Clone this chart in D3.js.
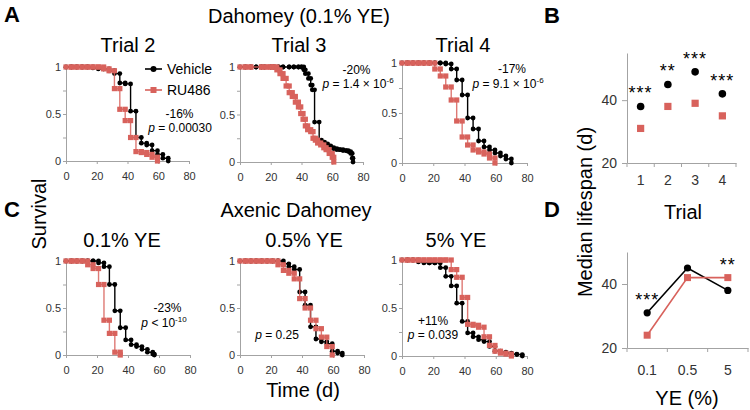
<!DOCTYPE html>
<html><head><meta charset="utf-8">
<script src="https://cdn.jsdelivr.net/npm/d3@7"></script>
<style>
body{margin:0;background:#fff;}
svg{font-family:"Liberation Sans",Arial,sans-serif;display:block;}
</style></head><body>
<svg id="c" width="750" height="410"></svg>
<script>
// ---------------- DATA ----------------
const survXTicks = [0, 20, 40, 60, 80];
const survYTicks = [0, 0.25, 0.5, 0.75, 1];
const seriesNames = ["Vehicle", "RU486"];

// Panel A - Dahomey (0.1% YE)
const t2VehTime = [0,3.5,7,10.5,14,17.5,21,24.5,28,31.5,35,38.5,42,45.5,49,52.5,56,59.5,63,66.5];
const t2VehSurv = [1,1,1,1,1,0.99,0.98,0.98,0.96,0.93,0.83,0.82,0.53,0.25,0.19,0.17,0.11,0.07,0.03,0];
const t2RuTime  = [0,3.5,7,10.5,14,17.5,21,24.5,28,31.5,35,38.5,42,45.5,49,52.5,56,59.5];
const t2RuSurv  = [1,1,1,1,1,1,1,0.98,0.96,0.77,0.55,0.43,0.25,0.10,0.09,0.07,0.04,0];

const t3VehTime = [0,3.5,7,10.5,14,16,20,22,25,28,32,35,38,40,41.5,42.5,44.5,46,47,48.5,51.5,53,55,57,59,61,63,65,67,69,70.5,72,73,73.5];
const t3VehSurv = [1,1,1,1,1,1,1,1,1,1,1,1,1,1,0.97,0.93,0.88,0.81,0.76,0.42,0.23,0.21,0.19,0.17,0.15,0.14,0.13,0.13,0.12,0.12,0.11,0.09,0.04,0];
const t3RuTime  = [0,3.5,7,14,17,20,22,24,26,28,30,32,34,36,38,39.5,41,42.5,44,46,47.5,49,50.5,52.5,54.5,56,58,60,61];
const t3RuSurv  = [1,1,1,1,1,1,1,0.97,0.93,0.88,0.80,0.73,0.69,0.63,0.58,0.51,0.45,0.38,0.34,0.32,0.25,0.23,0.20,0.18,0.15,0.13,0.09,0.05,0];

const t4VehTime = [0,3.5,7,10.5,14,17.5,21,24.5,28,31.5,35,38.5,42,45.5,49,52.5,56,59.5,63,66.5,70];
const t4VehSurv = [1,1,1,1,1,1,1,1,0.99,0.94,0.83,0.68,0.45,0.34,0.22,0.16,0.13,0.10,0.07,0.04,0];
const t4RuTime  = [0,3.5,7,10.5,14,17.5,21,24.5,28,31.5,35,38.5,42,45.5,49,52.5,56,59.5];
const t4RuSurv  = [1,1,1,1,1,1,0.94,0.87,0.76,0.63,0.42,0.26,0.18,0.13,0.11,0.09,0.05,0];

// Panel C - Axenic Dahomey
const c1VehTime = [0,3.5,7,10.5,14,17.5,21,24.5,28,31.5,35,38.5,42,45.5,49,52.5,56,57];
const c1VehSurv = [1,1,1,1,1,1,0.98,0.94,0.75,0.47,0.29,0.16,0.11,0.09,0.06,0.03,0.01,0];
const c1RuTime  = [0,3.5,7,10.5,14,17.5,21,24.5,28,31.5,35];
const c1RuSurv  = [1,1,1,1,0.96,0.92,0.75,0.37,0.23,0.03,0];

const c2VehTime = [0,3.5,7,10.5,14,17.5,21,24.5,28,31.5,35,38.5,42,45.5,49,52.5,56,59.5,63,66];
const c2VehSurv = [1,1,1,1,1,1,1,1,0.97,0.94,0.91,0.67,0.53,0.30,0.17,0.14,0.12,0.04,0.02,0];
const c2RuTime  = [0,3.5,7,10.5,14,17.5,21,24.5,28,31.5,35,38.5,42,45.5,49,52.5,56,59.5];
const c2RuSurv  = [1,1,1,1,1,1,1,0.96,0.90,0.87,0.81,0.60,0.50,0.37,0.28,0.19,0.09,0];

const c3VehTime = [0,3.5,7,10.5,14,17.5,21,24.5,28,31.5,35,38.5,42,45.5,49,52.5,56,59.5,63,66.5,70,73.5,77];
const c3VehSurv = [1,1,1,0.98,0.97,0.97,0.97,0.92,0.83,0.73,0.55,0.36,0.24,0.20,0.17,0.15,0.10,0.05,0.04,0.03,0.02,0.015,0];
const c3RuTime  = [0,3.5,7,10.5,14,17.5,21,24.5,28,31.5,35,38.5,42,45.5,49,52.5,56,59.5,63,66.5,70];
const c3RuSurv  = [1,1,1,1,1,1,1,1,1,0.90,0.82,0.61,0.33,0.32,0.30,0.20,0.11,0.05,0.03,0.02,0];

// Panel B - median lifespan per trial
const bTrials  = ["1","2","3","4"];
const bVehicle = [38,45,49,42];
const bRU486   = [31,38,39,35];
const bSig     = ["***","**","***","***"];
const bYTicks  = [20,40];

// Panel D - median lifespan per YE
const dYE      = ["0.1","0.5","5"];
const dVehicle = [31,45,38];
const dRU486   = [24,42,42];
const dSig     = ["***","","**"];
const dYTicks  = [20,40];

// ---------------- DRAWING ----------------
const svg = d3.select("#c");
const RED = "#d8625c";
const AXIS = "#a3a3a3";
const TXT = "#333";

function styleAxis(g, size) {
  g.attr("font-family", null).attr("font-size", null);
  g.selectAll("path.domain").attr("stroke", AXIS).attr("stroke-width", 1);
  g.selectAll(".tick line").attr("stroke", AXIS);
  g.selectAll(".tick text").attr("fill", TXT).style("font-size", size + "px");
}

function drawSurvival(box, veh, ru) {
  const g = svg.append("g");
  const x = d3.scaleLinear().domain([0, 80]).range([box.x0, box.x1]);
  const y = d3.scaleLinear().domain([0, 1]).range([box.yb, box.yt]);
  const xa = d3.axisBottom(x).tickValues(survXTicks).tickSize(3).tickSizeOuter(0).tickPadding(8);
  styleAxis(g.append("g").attr("transform", `translate(0,${box.yb})`).call(xa), 11);
  const ya = d3.axisLeft(y).tickValues(survYTicks)
    .tickFormat(d => (d === 0.25 || d === 0.75) ? "" : String(d))
    .tickSize(3).tickSizeOuter(0).tickPadding(2);
  styleAxis(g.append("g").attr("transform", `translate(${box.x0},0)`).call(ya), 11);

  const line = d3.line().x(d => x(d[0])).y(d => y(d[1])).curve(d3.curveStepAfter);
  [[veh, "#000", "circle"], [ru, RED, "square"]].forEach(([c, col, shape]) => {
    const pts = c[0].map((t, i) => [t, c[1][i]]);
    g.append("path").datum(pts).attr("d", line).attr("fill", "none")
      .attr("stroke", col).attr("stroke-width", 1.4).attr("opacity", shape === "square" ? 0.85 : 1);
    const marks = [];
    pts.forEach((p, i) => { marks.push(p); if (i > 0) marks.push([p[0], pts[i - 1][1]]); });
    if (shape === "circle") {
      g.selectAll(null).data(marks).enter().append("circle")
        .attr("cx", d => x(d[0])).attr("cy", d => y(d[1])).attr("r", 2.4).attr("fill", col);
    } else {
      g.selectAll(null).data(marks).enter().append("rect")
        .attr("x", d => x(d[0]) - 2.6).attr("y", d => y(d[1]) - 2.6)
        .attr("width", 5.2).attr("height", 5.2).attr("fill", col);
    }
  });
  return g;
}

function text(x, y, str, size, opts = {}) {
  const t = svg.append("text").attr("x", x).attr("y", y).attr("font-size", size)
    .attr("text-anchor", opts.anchor || "middle").attr("fill", opts.fill || "#000");
  if (opts.bold) t.attr("font-weight", "bold");
  if (opts.rotate) t.attr("transform", `rotate(-90,${x},${y})`);
  t.text(str);
  return t;
}

function pText(x, y, rel, val, sup) {
  const t = svg.append("text").attr("x", x).attr("y", y).attr("font-size", 12)
    .attr("text-anchor", "middle").attr("fill", "#000");
  t.append("tspan").attr("font-style", "italic").text("p");
  t.append("tspan").text(" " + rel + " " + val);
  if (sup) {
    t.append("tspan").attr("font-size", 8).attr("dy", -5).text(sup);
  }
}

// Panel letters & titles
text(12, 22, "A", 22, { bold: true });
text(552, 23, "B", 22, { bold: true });
text(12, 217, "C", 22, { bold: true });
text(552, 217, "D", 22, { bold: true });

text(299, 23, "Dahomey (0.1% YE)", 20);
text(128, 52, "Trial 2", 20);
text(299, 52, "Trial 3", 20);
text(463, 52, "Trial 4", 20);
text(296, 217, "Axenic Dahomey", 20);
text(122, 247, "0.1% YE", 20);
text(304, 247, "0.5% YE", 20);
text(456, 247, "5% YE", 20);

text(46, 214, "Survival", 20, { rotate: true });
text(303, 397, "Time (d)", 20);

// Survival plots
drawSurvival({ x0: 66, x1: 189, yt: 67, yb: 161 }, [t2VehTime, t2VehSurv], [t2RuTime, t2RuSurv]);
drawSurvival({ x0: 240, x1: 363, yt: 67, yb: 162 }, [t3VehTime, t3VehSurv], [t3RuTime, t3RuSurv]);
drawSurvival({ x0: 402, x1: 527, yt: 63, yb: 163 }, [t4VehTime, t4VehSurv], [t4RuTime, t4RuSurv]);
drawSurvival({ x0: 66, x1: 190, yt: 261, yb: 355 }, [c1VehTime, c1VehSurv], [c1RuTime, c1RuSurv]);
drawSurvival({ x0: 240, x1: 364, yt: 261, yb: 355 }, [c2VehTime, c2VehSurv], [c2RuTime, c2RuSurv]);
drawSurvival({ x0: 402, x1: 527, yt: 260, yb: 356 }, [c3VehTime, c3VehSurv], [c3RuTime, c3RuSurv]);

// Legend
[[69, "#000", "circle"], [90, RED, "square"]].forEach(([ly, col, shape], i) => {
  svg.append("line").attr("x1", 145).attr("x2", 162).attr("y1", ly).attr("y2", ly)
    .attr("stroke", col).attr("stroke-width", 1.6);
  if (shape === "circle") svg.append("circle").attr("cx", 153.5).attr("cy", ly).attr("r", 3).attr("fill", col);
  else svg.append("rect").attr("x", 150.5).attr("y", ly - 3).attr("width", 6).attr("height", 6).attr("fill", col);
  text(167, ly + 5, seriesNames[i], 14, { anchor: "start" });
});

// Annotations
text(179.5, 118, "-16%", 12);
pText(180, 132, "=", "0.00030");
text(356.5, 74, "-20%", 12);
pText(358, 88, "=", "1.4 × 10", "-6");
text(512, 73, "-17%", 12);
pText(508, 88, "=", "9.1 × 10", "-6");
text(167.5, 312, "-23%", 12);
pText(164, 327, "<", "10", "-10");
pText(277, 339, "=", "0.25");
text(433, 325, "+11%", 12);
pText(433, 339, "=", "0.039");

// Panel B
(function () {
  const g = svg.append("g");
  const x = d3.scaleBand().domain(bTrials).range([627, 736]);
  const y = d3.scaleLinear().domain([20, 55]).range([163, 53]);
  styleAxis(g.append("g").attr("transform", "translate(627,0)")
    .call(d3.axisLeft(y).tickValues(bYTicks).tickSize(5).tickSizeOuter(0).tickPadding(5)), 14);
  const xg = g.append("g").attr("transform", "translate(0,163)")
    .call(d3.axisBottom(x).tickSize(0).tickSizeOuter(0).tickPadding(12));
  styleAxis(xg, 14);
  d3.range(bTrials.length + 1).forEach(i => {
    const xx = x.range()[0] + i * x.step();
    g.append("line").attr("x1", xx).attr("x2", xx).attr("y1", 163).attr("y2", 167).attr("stroke", AXIS);
  });
  const cx = d => x(d) + x.bandwidth() / 2;
  g.selectAll(null).data(bTrials).enter().append("circle")
    .attr("cx", cx).attr("cy", (d, i) => y(bVehicle[i])).attr("r", 3.8).attr("fill", "#000");
  g.selectAll(null).data(bTrials).enter().append("rect")
    .attr("x", d => cx(d) - 3.6).attr("y", (d, i) => y(bRU486[i]) - 3.6)
    .attr("width", 7.2).attr("height", 7.2).attr("fill", RED);
  g.selectAll(null).data(bTrials).enter().append("text")
    .attr("x", cx).attr("y", (d, i) => y(Math.max(bVehicle[i], bRU486[i])) - 7)
    .attr("text-anchor", "middle").attr("font-size", 18).attr("letter-spacing", 1)
    .text((d, i) => bSig[i]);
  text(683, 219, "Trial", 20);
})();

// Panel D
(function () {
  const g = svg.append("g");
  const x = d3.scaleBand().domain(dYE).range([627, 748]);
  const y = d3.scaleLinear().domain([20, 50]).range([348, 252]);
  styleAxis(g.append("g").attr("transform", "translate(627,0)")
    .call(d3.axisLeft(y).tickValues(dYTicks).tickSize(5).tickSizeOuter(0).tickPadding(5)), 14);
  styleAxis(g.append("g").attr("transform", "translate(0,348)")
    .call(d3.axisBottom(x).tickSize(0).tickSizeOuter(0).tickPadding(17)), 14);
  d3.range(dYE.length + 1).forEach(i => {
    const xx = x.range()[0] + i * x.step();
    g.append("line").attr("x1", xx).attr("x2", xx).attr("y1", 348).attr("y2", 352).attr("stroke", AXIS);
  });
  const cx = d => x(d) + x.bandwidth() / 2;
  const line = d3.line().x(d => cx(d[0])).y(d => y(d[1]));
  g.append("path").datum(dYE.map((d, i) => [d, dVehicle[i]])).attr("d", line)
    .attr("fill", "none").attr("stroke", "#000").attr("stroke-width", 1.6);
  g.append("path").datum(dYE.map((d, i) => [d, dRU486[i]])).attr("d", line)
    .attr("fill", "none").attr("stroke", RED).attr("stroke-width", 1.6);
  g.selectAll(null).data(dYE).enter().append("circle")
    .attr("cx", cx).attr("cy", (d, i) => y(dVehicle[i])).attr("r", 3.6).attr("fill", "#000");
  g.selectAll(null).data(dYE).enter().append("rect")
    .attr("x", d => cx(d) - 3.5).attr("y", (d, i) => y(dRU486[i]) - 3.5)
    .attr("width", 7).attr("height", 7).attr("fill", RED);
  g.selectAll(null).data(dYE).enter().append("text")
    .attr("x", cx).attr("y", (d, i) => y(Math.max(dVehicle[i], dRU486[i])) - 7)
    .attr("text-anchor", "middle").attr("font-size", 18).attr("letter-spacing", 1)
    .text((d, i) => dSig[i]);
  text(687, 405, "YE (%)", 20);
})();

text(592, 212, "Median lifespan (d)", 20, { rotate: true });
</script>
</body></html>
